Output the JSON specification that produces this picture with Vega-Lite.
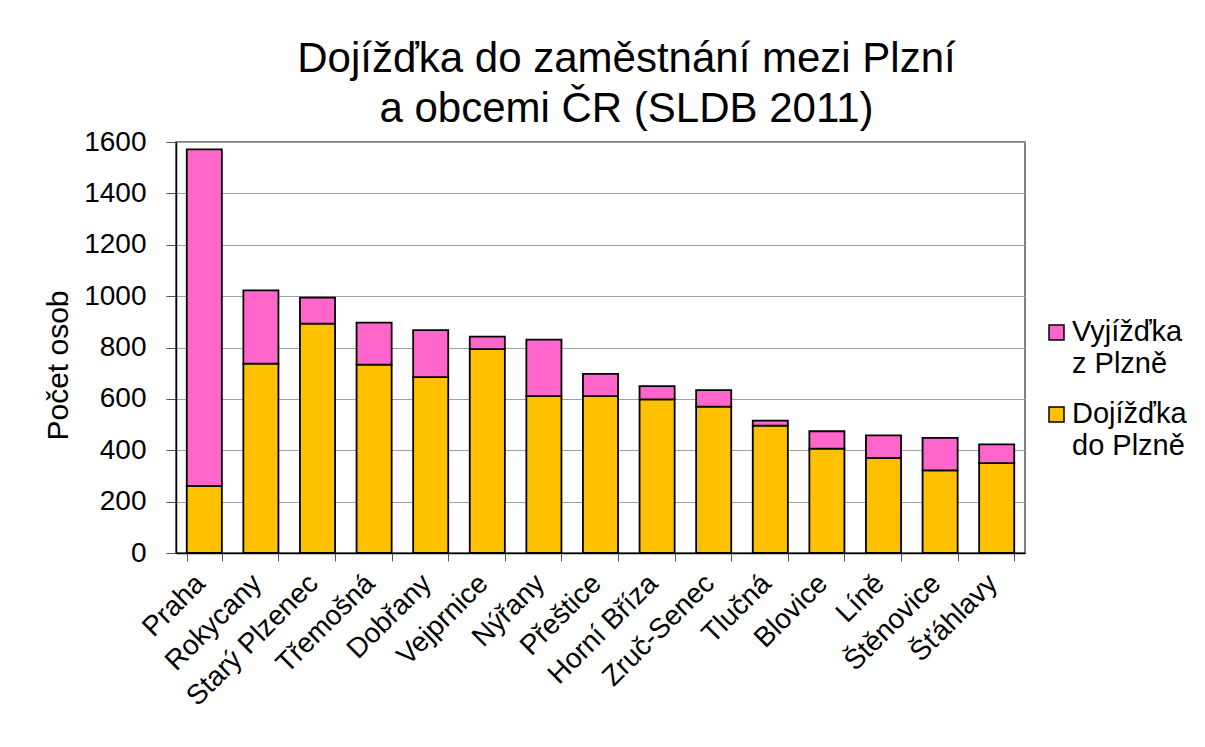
{
  "$schema": "https://vega.github.io/schema/vega-lite/v6.json",
  "autosize": {"type": "none"},
  "padding": {"left": 176, "top": 142, "right": 180, "bottom": 194},
  "width": 849,
  "height": 411,
  "background": "white",
  "title": {
    "text": ["Dojížďka do zaměstnání mezi Plzní", "a obcemi ČR (SLDB 2011)"],
    "font": "Liberation Sans",
    "fontSize": 42,
    "fontWeight": "normal",
    "color": "black",
    "anchor": "middle",
    "dx": 26,
    "offset": -3,
    "lineHeight": 50
  },
  "data": {
    "values": [
      {"mesto": "Praha", "serie": "Dojížďka do Plzně", "pocet": 261},
      {"mesto": "Praha", "serie": "Vyjížďka z Plzně", "pocet": 1310},
      {"mesto": "Rokycany", "serie": "Dojížďka do Plzně", "pocet": 737},
      {"mesto": "Rokycany", "serie": "Vyjížďka z Plzně", "pocet": 285},
      {"mesto": "Starý Plzenec", "serie": "Dojížďka do Plzně", "pocet": 893},
      {"mesto": "Starý Plzenec", "serie": "Vyjížďka z Plzně", "pocet": 101},
      {"mesto": "Třemošná", "serie": "Dojížďka do Plzně", "pocet": 733},
      {"mesto": "Třemošná", "serie": "Vyjížďka z Plzně", "pocet": 164},
      {"mesto": "Dobřany", "serie": "Dojížďka do Plzně", "pocet": 685},
      {"mesto": "Dobřany", "serie": "Vyjížďka z Plzně", "pocet": 183},
      {"mesto": "Vejprnice", "serie": "Dojížďka do Plzně", "pocet": 794},
      {"mesto": "Vejprnice", "serie": "Vyjížďka z Plzně", "pocet": 48},
      {"mesto": "Nýřany", "serie": "Dojížďka do Plzně", "pocet": 611},
      {"mesto": "Nýřany", "serie": "Vyjížďka z Plzně", "pocet": 220},
      {"mesto": "Přeštice", "serie": "Dojížďka do Plzně", "pocet": 611},
      {"mesto": "Přeštice", "serie": "Vyjížďka z Plzně", "pocet": 86},
      {"mesto": "Horní Bříza", "serie": "Dojížďka do Plzně", "pocet": 598},
      {"mesto": "Horní Bříza", "serie": "Vyjížďka z Plzně", "pocet": 52},
      {"mesto": "Zruč-Senec", "serie": "Dojížďka do Plzně", "pocet": 570},
      {"mesto": "Zruč-Senec", "serie": "Vyjížďka z Plzně", "pocet": 64},
      {"mesto": "Tlučná", "serie": "Dojížďka do Plzně", "pocet": 496},
      {"mesto": "Tlučná", "serie": "Vyjížďka z Plzně", "pocet": 19},
      {"mesto": "Blovice", "serie": "Dojížďka do Plzně", "pocet": 406},
      {"mesto": "Blovice", "serie": "Vyjížďka z Plzně", "pocet": 68},
      {"mesto": "Líně", "serie": "Dojížďka do Plzně", "pocet": 370},
      {"mesto": "Líně", "serie": "Vyjížďka z Plzně", "pocet": 88},
      {"mesto": "Štěnovice", "serie": "Dojížďka do Plzně", "pocet": 322},
      {"mesto": "Štěnovice", "serie": "Vyjížďka z Plzně", "pocet": 126},
      {"mesto": "Šťáhlavy", "serie": "Dojížďka do Plzně", "pocet": 350},
      {"mesto": "Šťáhlavy", "serie": "Vyjížďka z Plzně", "pocet": 73}
    ]
  },
  "mark": {"type": "bar", "stroke": "black", "strokeWidth": 1.8},
  "encoding": {
    "x": {
      "field": "mesto",
      "type": "nominal",
      "sort": null,
      "scale": {"paddingInner": 0.38, "paddingOuter": 0.19},
      "axis": {
        "title": null,
        "labelAngle": -45,
        "labelAlign": "right",
        "labelBaseline": "middle",
        "labelFont": "Liberation Sans",
        "labelFontSize": 28,
        "labelColor": "black",
        "labelPadding": 18,
        "labelOffset": -4,
        "labelLimit": 300,
        "tickBand": "extent",
        "tickSize": 8,
        "tickColor": "#555",
        "domainColor": "black",
        "domainWidth": 1.5
      }
    },
    "y": {
      "field": "pocet",
      "type": "quantitative",
      "stack": "zero",
      "scale": {"domain": [0, 1600], "nice": false},
      "axis": {
        "title": "Počet osob",
        "titleFont": "Liberation Sans",
        "titleFontSize": 30,
        "titleFontWeight": "normal",
        "titleColor": "black",
        "titlePadding": 10,
        "titleY": 223,
        "values": [0, 200, 400, 600, 800, 1000, 1200, 1400, 1600],
        "format": "d",
        "labelFont": "Liberation Sans",
        "labelFontSize": 28,
        "labelColor": "black",
        "labelPadding": 20,
        "tickSize": 10,
        "tickColor": "#555",
        "domainColor": "black",
        "domainWidth": 1.5,
        "gridColor": "#a0a0a0",
        "gridWidth": 1.2
      }
    },
    "color": {
      "field": "serie",
      "type": "nominal",
      "scale": {"domain": ["Vyjížďka z Plzně", "Dojížďka do Plzně"], "range": ["#FF66CC", "#FFC000"]},
      "legend": {
        "title": null,
        "orient": "none",
        "legendX": 866,
        "legendY": 176,
        "symbolType": "square",
        "symbolSize": 225,
        "symbolStrokeColor": "black",
        "symbolStrokeWidth": 1.5,
        "symbolOpacity": 1,
        "labelFont": "Liberation Sans",
        "labelFontSize": 29,
        "labelColor": "black",
        "labelBaseline": "alphabetic",
        "labelOffset": 1,
        "labelLimit": 300,
        "rowPadding": 20,
        "labelExpr": "datum.label == 'Vyjížďka z Plzně' ? ['Vyjížďka', 'z Plzně'] : ['Dojížďka', 'do Plzně']",
        "encode": {"labels": {"update": {"dy": {"value": 8}, "lineHeight": {"value": 32}}}}
      }
    },
    "order": {"field": "serie", "sort": "ascending"}
  },
  "config": {
    "view": {"stroke": "#555", "strokeWidth": 1.5},
    "axis": {"gridColor": "#a0a0a0"}
  }
}
